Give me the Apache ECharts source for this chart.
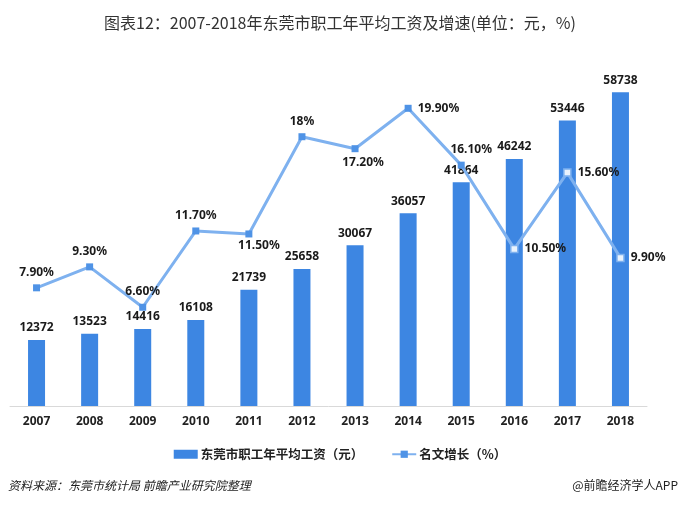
<!DOCTYPE html>
<html>
<head>
<meta charset="utf-8">
<script src="https://cdn.jsdelivr.net/npm/echarts@6/dist/echarts.min.js"></script>
<style>
html,body{margin:0;padding:0;background:#fff;}
#c{width:680px;height:508px;}
</style>
</head>
<body>
<div id="c"></div>
<script>
var years = ['2007','2008','2009','2010','2011','2012','2013','2014','2015','2016','2017','2018'];
var wages = [12372,13523,14416,16108,21739,25658,30067,36057,41864,46242,53446,58738];
var growth = [7.9,9.3,6.6,11.7,11.5,18,17.2,19.9,16.1,10.5,15.6,9.9];
var growthLabels = ['7.90%','9.30%','6.60%','11.70%','11.50%','18%','17.20%','19.90%','16.10%','10.50%','15.60%','9.90%'];
var seriesNames = ['东莞市职工年平均工资（元）','名文增长（%）'];
var titleText = '图表12：2007-2018年东莞市职工年平均工资及增速(单位：元，%)';
var sourceText = '资料来源：东莞市统计局 前瞻产业研究院整理';
var brandText = '@前瞻经济学人APP';

// label placement per point (style only)
var labelPos = ['top','top','top','top','bottom','top','bottom','right','top','right','right','right'];
var labelOff = [[0,0],[0,0],[0,0],[0,0],[10,-4],[0,0],[8,-2],[0,0],[10,0],[0,0],[0,0],[0,0]];
var hollow = [false,false,false,false,false,false,false,false,false,true,true,true];

var lineData = growth.map(function(v,i){
  return {
    value: v,
    itemStyle: hollow[i] ? {color:'#eaf3fd', borderColor:'#7eb1ef', borderWidth:1.5} : {color:'#4f93e6'},
    label: {position: labelPos[i], offset: labelOff[i], formatter: growthLabels[i]}
  };
});

var chart = echarts.init(document.getElementById('c'));
chart.setOption({
  animation: false,
  backgroundColor: '#fff',
  title: {
    text: titleText,
    left: 'center',
    top: 10,
    textStyle: {fontFamily:'Noto Sans CJK SC', fontSize:16, fontWeight:'normal', color:'#333'}
  },
  graphic: [
    {type:'text', left:8, top:479, style:{text:sourceText, font:'italic 12px "Noto Sans CJK SC"', fill:'#222'}},
    {type:'text', right:2, top:479, style:{text:brandText, font:'12px "Noto Sans CJK SC"', fill:'#222'}}
  ],
  legend: {
    top: 443,
    left: 'center',
    itemGap: 28,
    itemWidth: 24,
    itemHeight: 9,
    textStyle: {fontFamily:'Noto Sans CJK SC', fontSize:12.5, fontWeight:'bold', color:'#222', padding:[0,0,0,-2]},
    data: [
      {name: seriesNames[0], icon: 'rect'},
      {name: seriesNames[1]}
    ]
  },
  grid: {left:10, right:33, top:32, bottom:102, containLabel:false},
  xAxis: {
    type: 'category',
    data: years,
    axisLine: {lineStyle:{color:'#d9d9d9', width:1}},
    axisTick: {show:false},
    axisLabel: {color:'#222', fontWeight:'bold', fontSize:12, fontFamily:'Noto Sans', margin:10}
  },
  yAxis: [
    {type:'value', min:0, max:70000, show:false, splitLine:{show:false}},
    {type:'value', min:0, max:25, show:false, splitLine:{show:false}}
  ],
  series: [
    {
      name: seriesNames[0],
      type: 'bar',
      data: wages,
      barWidth: 17,
      itemStyle: {color:'#3d86e2'},
      label: {show:true, position:'top', distance:6, color:'#1a1a1a', fontWeight:'bold', fontSize:12, fontFamily:'Noto Sans'}
    },
    {
      name: seriesNames[1],
      type: 'line',
      yAxisIndex: 1,
      data: lineData,
      symbol: 'rect',
      symbolSize: 7,
      lineStyle: {color:'#7eb1ef', width:3},
      itemStyle: {color:'#4f93e6'},
      label: {show:true, distance:6, color:'#1a1a1a', fontWeight:'bold', fontSize:12, fontFamily:'Noto Sans'},
      z: 5
    }
  ]
});
</script>
</body>
</html>
